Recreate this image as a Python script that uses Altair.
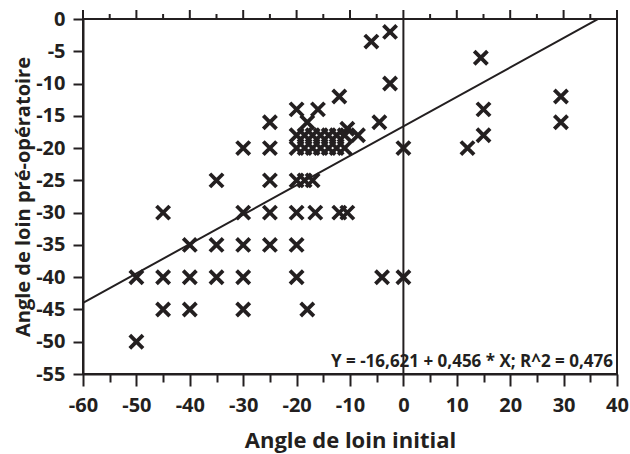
import altair as alt
import pandas as pd

# Scatter data: initial angle (x) vs pre-operative angle (y)
x_vals = [
    -2.5, -6, -2.5, 14.5, 15, 15, 12, 29.5, 29.5, 0, -4.5,
    -12, -20, -16, -25, -18, -10.5, -8.5, -30, -25,
    -20, -18.5, -17, -15.5, -14, -12.5, -11,
    -20, -18.5, -17, -15.5, -14, -12.5, -11,
    -35, -25, -20, -18.5, -17,
    -45, -30, -25, -20, -16.5, -12, -10.5,
    -40, -35, -30, -25, -20,
    -50, -45, -40, -35, -30, -20, -4, 0,
    -45, -40, -30, -18,
    -50,
]
y_vals = [
    -2, -3.5, -10, -6, -14, -18, -20, -12, -16, -20, -16,
    -12, -14, -14, -16, -16, -17, -18, -20, -20,
    -18, -18, -18, -18, -18, -18, -18,
    -20, -20, -20, -20, -20, -20, -20,
    -25, -25, -25, -25, -25,
    -30, -30, -30, -30, -30, -30, -30,
    -35, -35, -35, -35, -35,
    -40, -40, -40, -40, -40, -40, -40, -40,
    -45, -45, -45, -45,
    -50,
]

# Regression: Y = -16.621 + 0.456 * X
intercept = -16.621
slope = 0.456
line_x = [-60, 40]
equation = "Y = -16,621 + 0,456 * X; R^2 = 0,476"

x_ticks = list(range(-60, 45, 5))
y_ticks = list(range(-55, 5, 5))

INK = "#231f20"
FONT = "Open Sans"

pts = pd.DataFrame({"x": x_vals, "y": y_vals})
line_df = pd.DataFrame({"x": line_x})
ticks_df = pd.DataFrame({"x": x_ticks})

xscale = alt.Scale(domain=[-60, 40], nice=False, zero=False)
yscale = alt.Scale(domain=[-55, 0], nice=False, zero=False)

major_cond = "datum.value % 10 === 0"

x_axis = alt.Axis(
    orient="bottom",
    values=x_ticks,
    labelExpr="datum.value % 10 === 0 ? '' + datum.value : ''",
    tickSize={"condition": {"test": major_cond, "value": 12}, "value": 8},
    title="Angle de loin initial",
    labelFontSize=20,
    labelPadding=9,
    titleFontSize=22,
    titlePadding=15,
)

y_axis = alt.Axis(
    values=y_ticks,
    labelExpr="'' + datum.value",
    tickSize=10,
    title="Angle de loin pré-opératoire",
    labelFontSize=20,
    labelPadding=8,
    titleFontSize=20,
    titlePadding=2,
)


def X(field="x"):
    return alt.X(f"{field}:Q", scale=xscale, axis=x_axis)


def Y(field="y"):
    return alt.Y(f"{field}:Q", scale=yscale, axis=y_axis)


x_path = "M -1 -1 L 1 1 M -1 1 L 1 -1"

points = alt.Chart(pts).mark_point(
    shape=x_path, filled=False, size=175, strokeWidth=3.8, color=INK, opacity=1
).encode(x=X(), y=Y())

reg = alt.Chart(line_df).transform_calculate(
    y=f"{intercept} + {slope} * datum.x"
).mark_line(color=INK, strokeWidth=2, clip=True).encode(x=X(), y=Y())

zero_line = alt.Chart(pd.DataFrame({"x": [0]})).mark_rule(
    color=INK, strokeWidth=2
).encode(x=X())

eq_text = alt.Chart(
    pd.DataFrame({"x": [40], "y": [-53.2], "t": [equation]})
).mark_text(
    align="right", baseline="middle", dx=-4, font=FONT, fontWeight="bold",
    fontSize=17, color=INK
).encode(x=X(), y=Y(), text="t:N")

# top-edge tick marks (major every 10, minor every 5)
top_major = alt.Chart(ticks_df).transform_filter("datum.x % 10 === 0").mark_rule(
    color=INK, strokeWidth=2
).encode(x=X(), y=alt.value(-9), y2=alt.value(0))

top_minor = alt.Chart(ticks_df).transform_filter("datum.x % 10 !== 0").mark_rule(
    color=INK, strokeWidth=2
).encode(x=X(), y=alt.value(-5), y2=alt.value(0))

chart = alt.layer(points, reg, zero_line, eq_text, top_major, top_minor).properties(
    width=534,
    height=355,
    background="white",
    autosize=alt.AutoSizeParams(type="none"),
    padding={"left": 83, "top": 19, "right": 13, "bottom": 80},
).configure_view(
    stroke=INK, strokeWidth=2
).configure_axis(
    grid=False,
    domainColor=INK,
    domainWidth=2,
    tickColor=INK,
    tickWidth=2,
    labelFont=FONT,
    labelFontWeight="bold",
    labelColor=INK,
    labelFlush=False,
    labelOverlap=False,
    titleFont=FONT,
    titleFontWeight="bold",
    titleColor=INK,
)

chart.save("out.html", embed_options={"renderer": "svg", "actions": False})
